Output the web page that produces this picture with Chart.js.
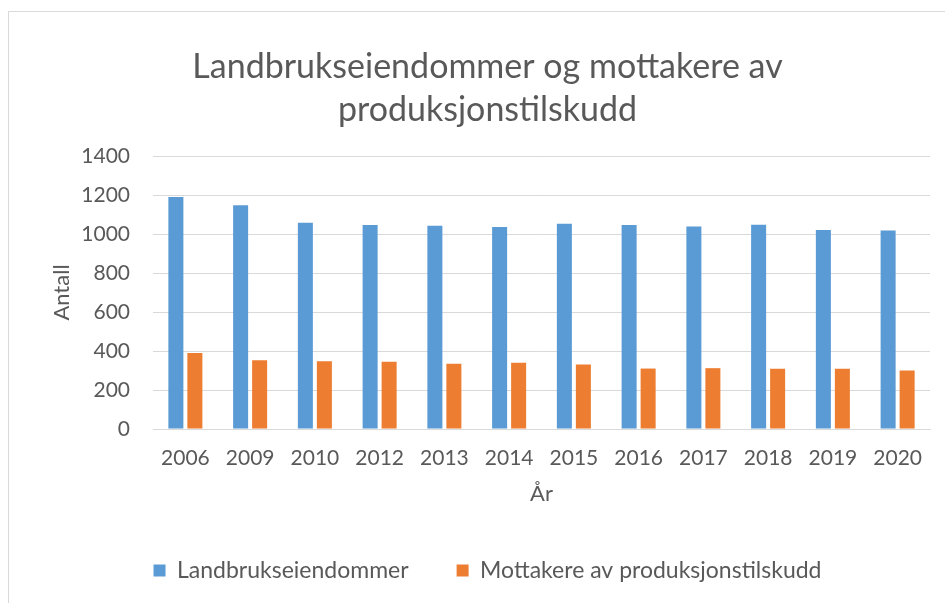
<!DOCTYPE html>
<html>
<head>
<meta charset="utf-8">
<script src="https://cdn.jsdelivr.net/npm/chart.js@4.4.1/dist/chart.umd.min.js"></script>
<style>
  html, body { margin: 0; padding: 0; background: #fff; overflow: hidden; }
  #frame { position: absolute; left: 8px; top: 11px; width: 960px; height: 620px; border: 1px solid #d9d9d9; }
  #chart { position: absolute; left: 0; top: 0; }
</style>
</head>
<body>
<div id="frame"><canvas id="chart" width="944" height="591"></canvas></div>
<script>
// data
const years = ['2006', '2009', '2010', '2012', '2013', '2014', '2015', '2016', '2017', '2018', '2019', '2020'];
const eiendommer = [1190, 1148, 1058, 1046, 1043, 1036, 1053, 1046, 1039, 1048, 1020, 1018];
const mottakere = [390, 352, 347, 345, 335, 340, 331, 310, 312, 309, 309, 300];
const yTicks = [0, 200, 400, 600, 800, 1000, 1200, 1400];

const TEXT = '#595959';
const GRID = '#d9d9d9';
const FONT = 'Lato';

new Chart(document.getElementById('chart'), {
  type: 'bar',
  data: {
    labels: years,
    datasets: [
      { label: 'Landbrukseiendommer', data: eiendommer, backgroundColor: '#5B9BD5' },
      { label: 'Mottakere av produksjonstilskudd', data: mottakere, backgroundColor: '#ED7D31' }
    ]
  },
  options: {
    responsive: false,
    animation: false,
    datasets: { bar: { categoryPercentage: 0.587, barPercentage: 0.79 } },
    layout: { padding: { left: 36, right: 23, top: 0, bottom: 11 } },
    plugins: {
      title: {
        display: true,
        text: ['Landbrukseiendommer og mottakere av', 'produksjonstilskudd'],
        color: TEXT,
        font: { family: FONT, size: 34, weight: 'normal', lineHeight: 1.265 },
        padding: { top: 34, bottom: 24 }
      },
      legend: {
        position: 'bottom',
        labels: {
          color: TEXT,
          font: { family: FONT, size: 23 },
          boxWidth: 12, boxHeight: 12,
          padding: 48
        }
      },
      tooltip: { enabled: false }
    },
    scales: {
      x: {
        grid: { display: false, drawTicks: false },
        border: { display: true, color: GRID },
        ticks: { color: TEXT, font: { family: FONT, size: 21 }, padding: 17 },
        title: { display: true, text: 'År', color: TEXT, font: { family: FONT, size: 22 }, padding: { top: 2, bottom: 4 } },
        afterFit: s => { s.height = 82; }
      },
      y: {
        min: 0, max: 1400,
        afterBuildTicks: s => { s.ticks = yTicks.map(v => ({ value: v })); },
        grid: { color: GRID, lineWidth: 1, drawTicks: false },
        border: { display: false },
        ticks: { color: TEXT, font: { family: FONT, size: 21 }, padding: 23, callback: v => String(v) },
        title: { display: true, text: 'Antall', color: TEXT, font: { family: FONT, size: 22 }, padding: 4 },
        afterFit: s => { s.width = 108; }
      }
    }
  }
});
</script>
</body>
</html>
